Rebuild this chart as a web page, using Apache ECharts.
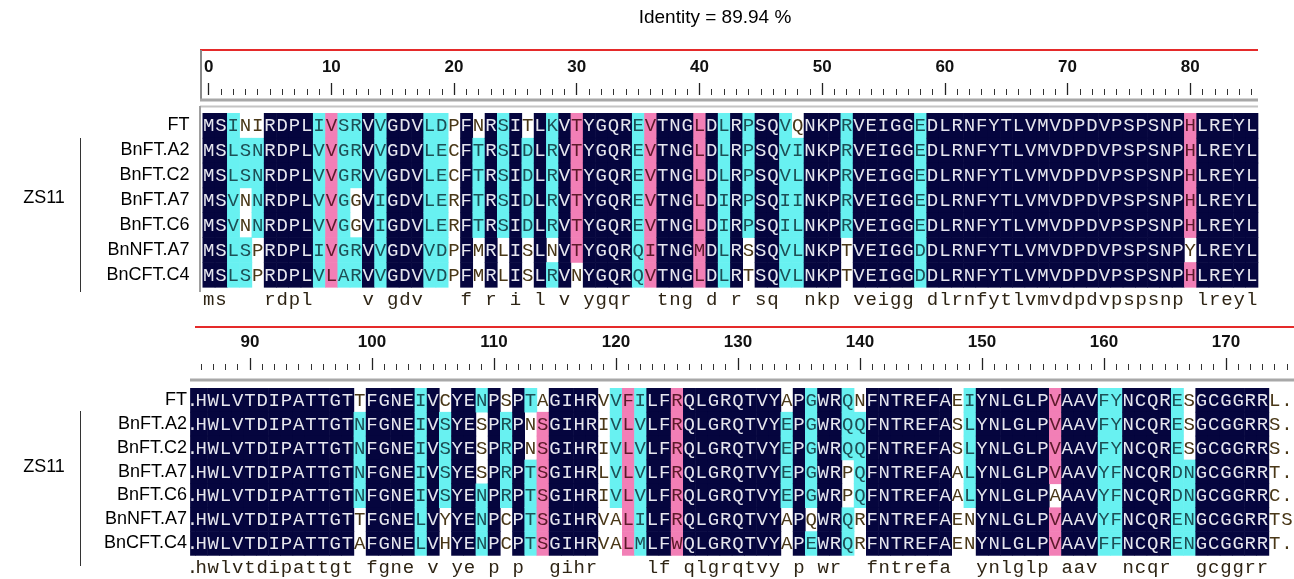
<!DOCTYPE html>
<html><head><meta charset="utf-8">
<script src="https://cdn.jsdelivr.net/npm/echarts@6/dist/echarts.min.js"></script>
<style>html,body{margin:0;padding:0;background:#fff}#c{width:1294px;height:579px}</style>
</head><body><div id="c"></div>
<script>
// ---------------- data ----------------
const titleText = 'Identity = 89.94 %';
const seqNames = ['FT', 'BnFT.A2', 'BnFT.C2', 'BnFT.A7', 'BnFT.C6', 'BnNFT.A7', 'BnCFT.C4'];
const groupLabel = 'ZS11';
// alignment columns 1-86
const seqBlock1 = [
  'MSINIRDPLIVSRVVGDVLDPFNRSITLKVTYGQREVTNGLDLRPSQVQNKPRVEIGGEDLRNFYTLVMVDPDVPSPSNPHLREYL',
  'MSLSNRDPLVVGRVVGDVLECFTRSIDLRVTYGQREVTNGLDLRPSQVINKPRVEIGGEDLRNFYTLVMVDPDVPSPSNPHLREYL',
  'MSLSNRDPLVVGRVVGDVLECFTRSIDLRVTYGQREVTNGLDLRPSQVLNKPRVEIGGEDLRNFYTLVMVDPDVPSPSNPHLREYL',
  'MSVNNRDPLVVGGVIGDVLERFTRSIDLRVTYGQREVTNGLDIRPSQIINKPRVEIGGEDLRNFYTLVMVDPDVPSPSNPHLREYL',
  'MSVNNRDPLVVGGVIGDVLERFTRSIDLRVTYGQREVTNGLDIRPSQILNKPRVEIGGEDLRNFYTLVMVDPDVPSPSNPHLREYL',
  'MSLSPRDPLIVGRVVGDVVDPFMRLISLNVTYGQRQITNGMDLRSSQVLNKPTVEIGGDDLRNFYTLVMVDPDVPSPSNPYLREYL',
  'MSLSPRDPLVLARVVGDVVDPFMRLISLRVNYGQRQVTNGLDLRTSQVLNKPTVEIGGDDLRNFYTLVMVDPDVPSPSNPHLREYL'
];
// alignment columns 87-176 ('.' = gap)
const seqBlock2 = [
  'HWLVTDIPATTGTTFGNEIVCYENPSPTAGIHRVVFILFRQLGRQTVYAPGWRQNFNTREFAEIYNLGLPVAAVFYNCQRESGCGGRRL.',
  'HWLVTDIPATTGTNFGNEIVSYESPRPNSGIHRIVLVLFRQLGRQTVYEPGWRQQFNTREFASLYNLGLPVAAVFYNCQRESGCGGRRS.',
  'HWLVTDIPATTGTNFGNEIVSYESPRPNSGIHRIVLVLFRQLGRQTVYEPGWRQQFNTREFASLYNLGLPVAAVFYNCQRESGCGGRRS.',
  'HWLVTDIPATTGTNFGNEIVSYESPRPTSGIHRLVLVLFRQLGRQTVYEPGWRPQFNTREFAALYNLGLPVAAVYFNCQRDNGCGGRRT.',
  'HWLVTDIPATTGTNFGNEIVSYENPRPTSGIHRIVLVLFRQLGRQTVYEPGWRPQFNTREFAALYNLGLPAAAVYFNCQRDNGCGGRRC.',
  'HWLVTDIPATTGTTFGNELVYYENPCPTSGIHRVALILFRQLGRQTVYAPQWRQRFNTREFAENYNLGLPVAAVYFNCQRENGCGGRRTS',
  'HWLVTDIPATTGTAFGNELVHYENPCPTSGIHRVALMLFWQLGRQTVYAPEWRQRFNTREFAENYNLGLPVAAVFFNCQRENGCGGRRT.'
];
// homology shading of non-identical columns (column number, one code per sequence)
// p = >=75% , c = >=50% , w = not shaded ; identical columns are 100%
const shadeBlock1 = [[3,'ccccccc'],[4,'wccwwcc'],[5,'wccccww'],[10,'ccccccc'],[11,'ppppppp'],[12,'ccccccc'],
  [13,'cccwwcc'],[15,'ccccccc'],[19,'ccccccc'],[20,'ccccccc'],[21,'wwwwwww'],[23,'wccccww'],[25,'cccccww'],
  [27,'wccccww'],[29,'cccccwc'],[31,'ppppppw'],[36,'ccccccc'],[37,'ppppppp'],[41,'ppppppp'],[43,'ccccccc'],
  [45,'cccccww'],[48,'ccccccc'],[49,'wcccccc'],[53,'cccccww'],[59,'ccccccc'],[81,'pppppwp']];
const shadeBlock2 = [[100,'wccccww'],[105,'ccccccc'],[107,'wccccww'],[110,'cwwwccc'],[112,'wccccww'],
  [114,'cwwcccc'],[115,'wpppppp'],[120,'wwwwwww'],[121,'cccccww'],[122,'ppppppp'],[123,'ccccccc'],
  [126,'ppppppp'],[135,'wccccww'],[137,'cccccwc'],[140,'cccwwcc'],[141,'wccccww'],[149,'wwwwwww'],
  [150,'cccccww'],[157,'ppppwpp'],[161,'ccccccc'],[162,'ccccccc'],[167,'ccccccc'],[168,'wwwcccc'],
  [175,'wwwwwww'],[176,'wwwwwww']];
const rulerStep = 10;

// ---------------- styles ----------------
const BG = {n: '#05053e', p: '#f27fb6', c: '#68f1f1'};
const FG = {n: '#e6e6ee', p: '#5c1a2a', c: '#1d4f55', w: '#4a3818', x: '#2e2414'};
const MONO = '19px "Liberation Mono", "DejaVu Sans Mono", monospace';
const SANS = '"Liberation Sans", Arial, sans-serif';

function buildCells(seqList, shadeList, startCol, partialFrom) {
  const map = {};
  shadeList.forEach(function (s) { map[s[0]] = s[1]; });
  const cells = [];
  if (partialFrom != null) {
    for (let r = 0; r < 7; r++) cells.push([startCol - 1, r, '.', 'n', partialFrom]);
    cells.push([startCol - 1, 7, '.', 'x', partialFrom]);
  }
  const n = seqList[0].length;
  for (let j = 0; j < n; j++) {
    const col = startCol + j;
    const chars = seqList.map(function (s) { return s[j]; });
    const ident = chars.every(function (ch) { return ch === chars[0]; }) && chars[0] !== '.';
    const code = ident ? 'nnnnnnn' : (map[col + 1] || 'wwwwwww');
    for (let r = 0; r < 7; r++) cells.push([col, r, chars[r], code[r]]);
    cells.push([col, 7, ident ? chars[0].toLowerCase() : '', 'x']);
  }
  return cells;
}
const cells1 = buildCells(seqBlock1, shadeBlock1, 0, null);
const cells2 = buildCells(seqBlock2, shadeBlock2, 86, 85.6);

function makeRender(cells) {
  return function (params, api) {
    const d = cells[params.dataIndex];
    const xs = d[4] != null ? d[4] : d[0];
    const p0 = api.coord([xs, d[1]]);
    const p1 = api.coord([d[0] + 1, d[1]]);
    const h = api.size([0, 1])[1];
    const ch = [];
    if (BG[d[3]]) {
      ch.push({type: 'rect', shape: {x: p0[0], y: p0[1] - h / 2, width: p1[0] - p0[0] + 0.6, height: h + 0.6},
        style: {fill: BG[d[3]]}});
    }
    if (d[2]) {
      ch.push({type: 'text', style: {text: d[2], x: (p0[0] + p1[0]) / 2, y: p0[1] + 1, align: 'center',
        verticalAlign: 'middle', fill: FG[d[3]], font: MONO}});
    }
    return {type: 'group', children: ch};
  };
}

const rows = seqNames.concat(['']);
const ruler1 = []; for (let i = 0; i < 86; i++) ruler1.push(String(i));
const ruler2 = []; for (let i = 86; i < 176; i++) ruler2.push(String(i));
const isMajor = function (i, v) { return (+v) % rulerStep === 0; };

function rulerAxes(grid, cats) {
  return [
    {type: 'category', gridIndex: grid, position: 'top', offset: 18, data: cats, boundaryGap: true,
      axisLine: {show: false}, axisLabel: {show: false}, splitLine: {show: false},
      axisTick: {show: true, alignWithLabel: true, interval: 0, length: 6, lineStyle: {color: '#333', width: 1}}},
    {type: 'category', gridIndex: grid, position: 'top', offset: 18, data: cats, boundaryGap: true,
      axisLine: {show: false}, splitLine: {show: false},
      axisTick: {show: true, alignWithLabel: true, interval: isMajor, length: 12, lineStyle: {color: '#222', width: 1.3}},
      axisLabel: {show: true, interval: isMajor, margin: 19, fontSize: 17, fontWeight: 'bold', color: '#111',
        fontFamily: SANS}}
  ];
}

const W1 = 12.27, W2 = 12.2;
const option = {
  animation: false,
  backgroundColor: '#fff',
  grid: [
    {left: 202.5, top: 113, width: 86 * W1, height: 8 * 24.86},
    {left: 195, top: 388, width: 90 * W2, height: 8 * 24.57}
  ],
  xAxis: [
    {type: 'value', gridIndex: 0, min: 0, max: 86, show: false},
    {type: 'value', gridIndex: 1, min: 86, max: 176, show: false}
  ].concat(rulerAxes(0, ruler1)).concat(rulerAxes(1, ruler2)),
  yAxis: [
    {type: 'category', gridIndex: 0, data: rows, inverse: true, axisLine: {show: false}, axisTick: {show: false},
      splitLine: {show: false}, axisLabel: {margin: 13, fontSize: 18, color: '#000', fontFamily: SANS}},
    {type: 'category', gridIndex: 1, data: rows, inverse: true, axisLine: {show: false}, axisTick: {show: false},
      splitLine: {show: false}, axisLabel: {margin: 8, fontSize: 18, color: '#000', fontFamily: SANS}}
  ],
  series: [
    {type: 'custom', xAxisIndex: 0, yAxisIndex: 0, clip: false, renderItem: makeRender(cells1),
      encode: {x: 0, y: 1}, data: cells1.map(function (d) { return [d[0], d[1]]; })},
    {type: 'custom', xAxisIndex: 1, yAxisIndex: 1, clip: false, renderItem: makeRender(cells2),
      encode: {x: 0, y: 1}, data: cells2.map(function (d) { return [d[0], d[1]]; })}
  ],
  graphic: [
    {type: 'text', x: 715, y: 18, z: 10, style: {text: titleText, align: 'center', verticalAlign: 'middle',
      font: '19px ' + SANS, fill: '#000'}},
    // block 1 frame
    {type: 'line', shape: {x1: 200, y1: 50, x2: 1258, y2: 50}, style: {stroke: '#e52a2a', lineWidth: 2}},
    {type: 'line', shape: {x1: 201, y1: 50, x2: 201, y2: 100}, style: {stroke: '#8a8a8a', lineWidth: 2}},
    {type: 'line', shape: {x1: 200, y1: 100, x2: 1258, y2: 100}, style: {stroke: '#a8a8a8', lineWidth: 3}},
    {type: 'line', shape: {x1: 200, y1: 106.5, x2: 1258, y2: 106.5}, style: {stroke: '#c4c4c4', lineWidth: 2}},
    {type: 'line', shape: {x1: 200, y1: 106, x2: 200, y2: 292}, style: {stroke: '#a0a0a0', lineWidth: 2}},
    // block 2 frame
    {type: 'line', shape: {x1: 195, y1: 327, x2: 1294, y2: 327}, style: {stroke: '#e52a2a', lineWidth: 2}},
    {type: 'line', shape: {x1: 190, y1: 380, x2: 1294, y2: 380}, style: {stroke: '#a8a8a8', lineWidth: 3}},
    // group brackets
    {type: 'line', shape: {x1: 80.5, y1: 138, x2: 80.5, y2: 292}, style: {stroke: '#333', lineWidth: 1}},
    {type: 'line', shape: {x1: 80.5, y1: 411, x2: 80.5, y2: 566}, style: {stroke: '#333', lineWidth: 1}},
    {type: 'text', x: 44, y: 198, style: {text: groupLabel, align: 'center', verticalAlign: 'middle', font: '18px ' + SANS, fill: '#000'}},
    {type: 'text', x: 44, y: 467, style: {text: groupLabel, align: 'center', verticalAlign: 'middle', font: '18px ' + SANS, fill: '#000'}}
  ]
};
const chart = echarts.init(document.getElementById('c'), null, {renderer: 'canvas'});
chart.setOption(option);
</script>
</body></html>
